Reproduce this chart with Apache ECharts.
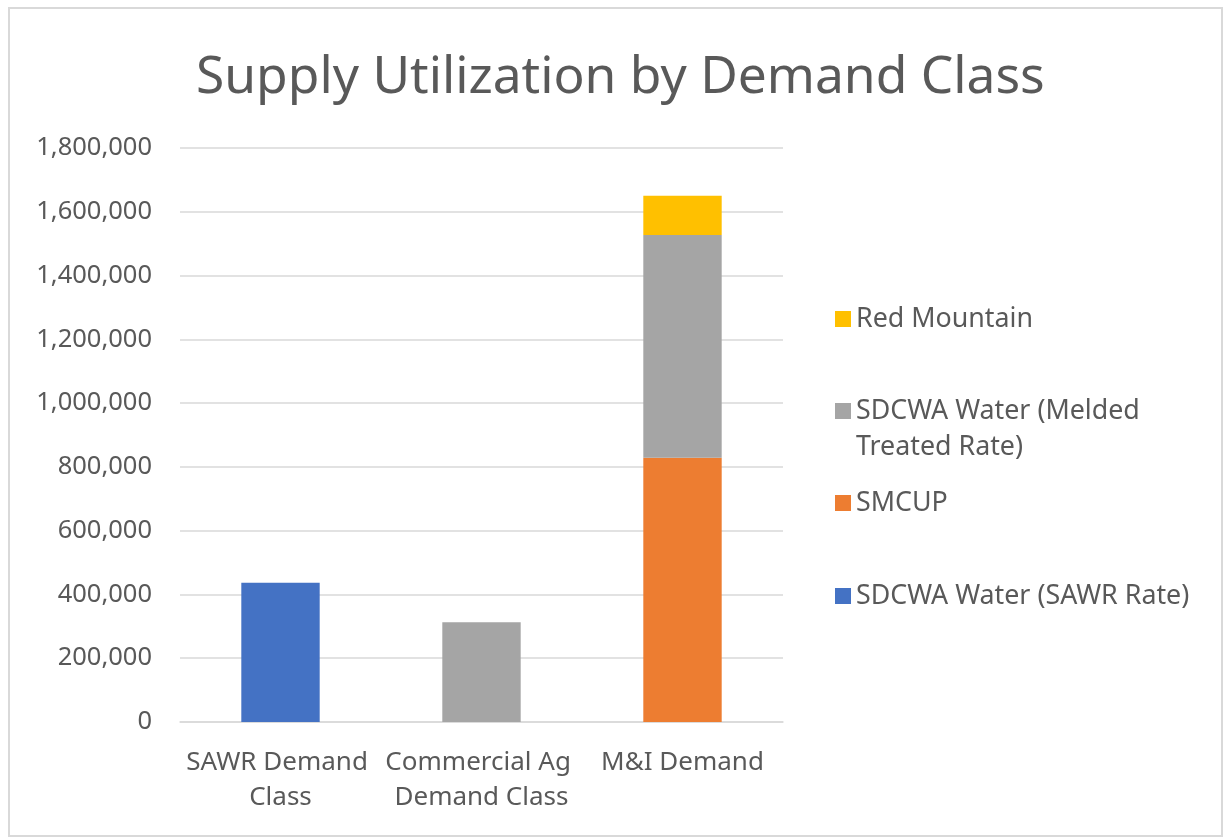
<!DOCTYPE html>
<html><head><meta charset="utf-8">
<script src="https://cdn.jsdelivr.net/npm/echarts@6/dist/echarts.min.js"></script>
<style>html,body{margin:0;padding:0;background:#fff}#c{width:1225px;height:840px}</style>
</head><body><div id="c"></div>
<script>
const categories = ["SAWR Demand Class", "Commercial Ag Demand Class", "M&I Demand"];
const sawrRate = [437000, 0, 0];
const smcup = [0, 0, 829000];
const melded = [0, 313000, 698000];
const redMountain = [0, 0, 123000];
const yTicks = [0, 200000, 400000, 600000, 800000, 1000000, 1200000, 1400000, 1600000, 1800000];

const FONT = "Noto Sans";
const names = ["SDCWA Water (SAWR Rate)", "SMCUP", "SDCWA Water (Melded Treated Rate)", "Red Mountain"];
const colors = ["#4472C4", "#ED7D31", "#A5A5A5", "#FFC000"];
const values = [sawrRate, smcup, melded, redMountain];
const LFS = 26.8, LLH = 35;

function mkLegend(name, center, extra) {
  return Object.assign({
    orient: 'vertical', left: 835, top: center - LLH / 2, itemWidth: 16, itemHeight: 16,
    icon: 'rect', itemGap: 0, padding: 0, selectedMode: false,
    data: [name],
    textStyle: { fontFamily: FONT, fontSize: LFS, color: '#595959', lineHeight: LLH }
  }, extra || {});
}

const chart = echarts.init(document.getElementById('c'));
chart.setOption({
  animation: false,
  backgroundColor: '#fff',
  title: {
    text: 'Supply Utilization by Demand Class', left: 191, top: 47,
    textStyle: { fontFamily: FONT, fontSize: 51.5, fontWeight: 'normal', color: '#595959' }
  },
  legend: [
    mkLegend(names[3], 319),
    mkLegend(names[2], 411, { formatter: () => 'SDCWA Water (Melded' }),
    mkLegend(names[1], 503),
    mkLegend(names[0], 596)
  ],
  graphic: [{
    type: 'text', left: 856, top: 447 - LLH / 2, silent: true,
    style: { text: 'Treated Rate)', fontFamily: FONT, fontSize: LFS, fill: '#595959', lineHeight: LLH }
  }],
  grid: { left: 180, right: 442, top: 148, bottom: 118 },
  xAxis: {
    type: 'category', data: categories,
    axisLine: { lineStyle: { color: '#D9D9D9', width: 1.5 } },
    axisTick: { show: false },
    axisLabel: { interval: 0, color: '#595959', fontFamily: FONT, fontSize: 26, lineHeight: 35, margin: 23, width: 200, overflow: 'break' }
  },
  yAxis: {
    type: 'value', min: 0, max: 1800000, interval: 200000,
    axisLine: { show: false }, axisTick: { show: false },
    splitLine: { lineStyle: { color: '#D9D9D9', width: 1.5 } },
    axisLabel: { color: '#595959', fontFamily: FONT, fontSize: 25.5, margin: 28,
      formatter: v => v.toLocaleString('en-US') }
  },
  series: values.map((d, i) => ({
    name: names[i], type: 'bar', stack: 'total', data: d.map(v => v === 0 ? null : v),
    barWidth: '39%', itemStyle: { color: colors[i] }
  }))
});
chart.getZr().add(new echarts.graphic.Rect({
  shape: { x: 9, y: 8, width: 1213, height: 828 },
  style: { fill: 'none', stroke: '#D9D9D9', lineWidth: 2 }, silent: true, z: 100
}));
</script></body></html>
